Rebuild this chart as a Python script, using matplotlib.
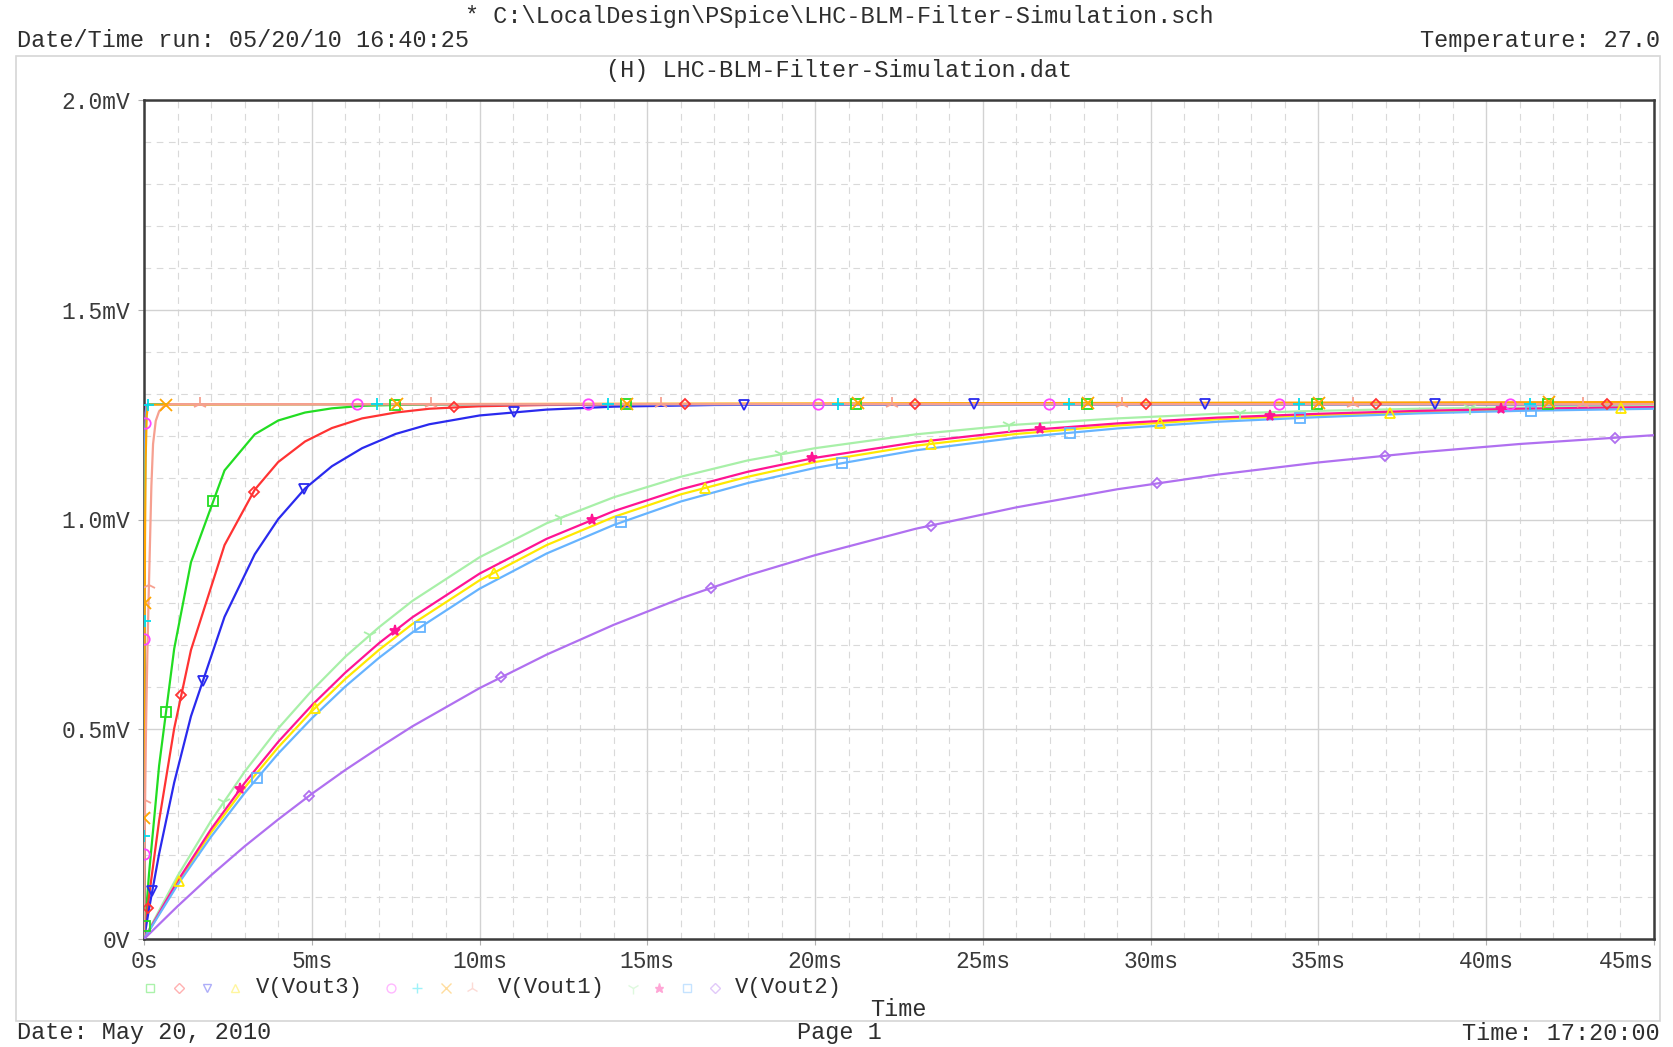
import numpy as np
import matplotlib
matplotlib.use("Agg")
import matplotlib.pyplot as plt
from matplotlib.colors import to_rgb

# ---------------- data (time in ms, voltage in mV) -------------
T_FAST = [0, 0.15, 0.45, 0.9, 1.4, 2.4, 3.3, 4.0, 4.8, 5.6, 6.5, 7.5, 8.5, 10, 12, 14,
          17, 20, 25, 30, 35, 40, 45]
V3_GREEN = [0, 0.156, 0.413, 0.692, 0.898, 1.117, 1.203, 1.236, 1.255, 1.265, 1.271, 1.273,
            1.274, 1.275, 1.275, 1.275, 1.275, 1.275, 1.275, 1.275, 1.275, 1.275, 1.275]
V3_RED = [0, 0.102, 0.282, 0.502, 0.689, 0.939, 1.071, 1.137, 1.186, 1.218, 1.241, 1.255,
          1.264, 1.270, 1.273, 1.274, 1.275, 1.275, 1.275, 1.275, 1.275, 1.275, 1.275]
V3_BLUE = [0, 0.072, 0.203, 0.373, 0.531, 0.768, 0.917, 1.001, 1.074, 1.127, 1.170, 1.204,
           1.227, 1.248, 1.262, 1.269, 1.273, 1.274, 1.275, 1.275, 1.275, 1.275, 1.275]

T_SLOW = [0, 1, 2, 3, 4, 5, 6, 7, 8, 10, 12, 14, 16, 18, 20, 23, 26, 29, 32, 35, 38, 41, 45]
V3_YELLOW = [0, 0.134, 0.254, 0.361, 0.457, 0.543, 0.620, 0.689, 0.751, 0.855, 0.939, 1.006,
             1.060, 1.102, 1.137, 1.176, 1.204, 1.224, 1.239, 1.249, 1.256, 1.262, 1.266]
V2_LTGREEN = [0, 0.150, 0.282, 0.399, 0.502, 0.592, 0.673, 0.743, 0.806, 0.910, 0.991, 1.053,
              1.102, 1.141, 1.170, 1.203, 1.226, 1.241, 1.252, 1.259, 1.264, 1.267, 1.270]
V2_STAR = [0, 0.138, 0.262, 0.372, 0.470, 0.557, 0.635, 0.705, 0.767, 0.871, 0.954, 1.020,
           1.072, 1.114, 1.147, 1.184, 1.211, 1.229, 1.243, 1.252, 1.259, 1.264, 1.268]
V2_LTBLUE = [0, 0.129, 0.244, 0.348, 0.442, 0.526, 0.602, 0.670, 0.731, 0.835, 0.919, 0.987,
             1.043, 1.087, 1.123, 1.165, 1.195, 1.217, 1.233, 1.244, 1.253, 1.259, 1.264]
V2_PURPLE = [0, 0.078, 0.152, 0.221, 0.285, 0.346, 0.403, 0.456, 0.507, 0.598, 0.678, 0.749,
             0.812, 0.867, 0.915, 0.978, 1.029, 1.072, 1.107, 1.136, 1.160, 1.180, 1.201]

T_V1 = [0, 0.005, 0.01, 0.02, 0.03, 0.05, 0.08, 0.12, 45]
V1_MAGENTA = [0, 0.435, 0.720, 1.034, 1.170, 1.255, 1.274, 1.275, 1.275]
V1_CYAN = [0, 0.342, 0.593, 0.909, 1.080, 1.219, 1.266, 1.275, 1.275]
V1_ORANGE = [0, 0.260, 0.467, 0.764, 0.952, 1.148, 1.247, 1.274, 1.280]
T_PINK = [0, 0.02, 0.06, 0.10, 0.14, 0.18, 0.22, 0.27, 0.35, 0.45, 0.6, 0.8, 45]
V1_PINK = [0, 0.25, 0.50, 0.68, 0.82, 0.95, 1.08, 1.18, 1.235, 1.258, 1.27, 1.275, 1.275]

X_TICKS = [0, 5, 10, 15, 20, 25, 30, 35, 40, 45]
X_LABELS = ["0s", "5ms", "10ms", "15ms", "20ms", "25ms", "30ms", "35ms", "40ms", "45ms"]
Y_TICKS = [0, 0.5, 1.0, 1.5, 2.0]
Y_LABELS = ["0V", "0.5mV", "1.0mV", "1.5mV", "2.0mV"]
GROUP_NAMES = ["V(Vout3)", "V(Vout1)", "V(Vout2)"]

# ---------------- styles ----------------
# (t, v, color, marker, markersize, hollow)
SERIES = [
    (T_FAST, V3_GREEN, "#22dd22", "s", 7.5, True),
    (T_FAST, V3_RED, "#ff3333", "D", 5.5, True),
    (T_FAST, V3_BLUE, "#2a2aee", "v", 7.5, True),
    (T_SLOW, V3_YELLOW, "#ffe800", "^", 7.5, True),
    (T_V1, V1_MAGENTA, "#ff44ff", "o", 7.5, True),
    (T_V1, V1_CYAN, "#00ddee", "+", 9, True),
    (T_V1, V1_ORANGE, "#ffa500", "x", 8, True),
    (T_PINK, V1_PINK, "#f6a090", "2", 10, True),
    (T_SLOW, V2_LTGREEN, "#a8f0a8", "1", 10, True),
    (T_SLOW, V2_STAR, "#ff1493", "*", 8, False),
    (T_SLOW, V2_LTBLUE, "#66b4ff", "s", 7.5, True),
    (T_SLOW, V2_PURPLE, "#b070f0", "D", 5.5, True),
]

FONT = ["Liberation Mono", "DejaVu Sans Mono"]
FS_HEAD = 16.9
FS_TICK = 16.5
FS_LEG = 16.0
TXT = "#2e2e2e"

W, H = 1673, 1047
fig = plt.figure(figsize=(W / 100, H / 100), dpi=100)
fig.patch.set_facecolor("white")

# page frame
fig.add_artist(plt.Rectangle((16 / W, (H - 1021) / H), 1644 / W, 965.5 / H,
                             transform=fig.transFigure, fill=False,
                             edgecolor="#d6d6d6", lw=1.2))

ax = fig.add_axes([144 / W, 108 / H, 1510 / W, 839 / H])
ax.set_xlim(0, 45)
ax.set_ylim(0, 2.0)
ax.set_facecolor("white")

ax.set_xticks(X_TICKS)
ax.set_xticklabels(X_LABELS)
ax.set_xticks(np.arange(0, 46, 1), minor=True)
ax.set_yticks(Y_TICKS)
ax.set_yticklabels(Y_LABELS)
ax.set_yticks(np.arange(0, 2.01, 0.1), minor=True)
ax.grid(True, which="major", color="#d2d2d2", lw=1.0, ls="-")
ax.grid(True, which="minor", color="#d9d9d9", lw=0.8, ls=(0, (6, 5)))
ax.set_axisbelow(True)
ax.tick_params(which="major", direction="out", length=4, color="#b0b0b0",
               labelsize=FS_TICK, labelcolor="#3a3a3a", pad=6)
ax.tick_params(axis="x", which="major", pad=4)
ax.tick_params(which="minor", length=0)
for lab in ax.get_xticklabels() + ax.get_yticklabels():
    lab.set_fontfamily(FONT)
ax.get_xticklabels()[-1].set_horizontalalignment("right")
for sp in ax.spines.values():
    sp.set_color("#3c3c3c")
    sp.set_linewidth(1.8)

# marker spacing along each trace (PSpice style), in screen pixels
STEP_X = 230.5
STEP_Y = 215.5


def markers_along(t, v, offset):
    pts = ax.transData.transform(np.column_stack([t, v]))
    dx = np.diff(pts[:, 0]) / STEP_X
    dy = np.diff(pts[:, 1]) / STEP_Y
    cum = np.concatenate([[0], np.cumsum(np.hypot(dx, dy))])
    s = np.arange(offset, cum[-1], 1.0)
    px = np.interp(s, cum, pts[:, 0])
    py = np.interp(s, cum, pts[:, 1])
    return ax.transData.inverted().transform(np.column_stack([px, py]))


for i, (t, v, col, mk, ms, hollow) in enumerate(SERIES):
    ax.plot(t, v, color=col, lw=1.6, zorder=3 + i * 0.01, solid_joinstyle="round")
for i, (t, v, col, mk, ms, hollow) in enumerate(SERIES):
    m = markers_along(t, v, 0.06 + i / 12.0)
    ax.plot(m[:, 0], m[:, 1], ls="none", marker=mk, ms=ms,
            mfc="none" if hollow else col, mec=col, mew=1.3, zorder=4, clip_on=True)

# legend row (faint markers + series names)
def faint(c, a=0.38):
    r, g, b = to_rgb(c)
    return (1 - a + a * r, 1 - a + a * g, 1 - a + a * b)

LEG_Y = (H - 988) / H
mk_x = [149.5, 179, 207, 235, 391, 417, 446, 472, 633, 659, 687, 715]
name_x = [255.6, 498, 735]
for (t, v, col, mk, ms, hollow), x in zip(SERIES, mk_x):
    fc = faint(col)
    fig.lines.append(matplotlib.lines.Line2D([x / W], [LEG_Y], transform=fig.transFigure,
                                             marker=mk, ms=ms * 0.85, ls="none",
                                             mfc="none" if hollow else fc, mec=fc, mew=1.0))
for name, x in zip(GROUP_NAMES, name_x):
    fig.text(x / W, LEG_Y, name, ha="left", va="center", fontsize=FS_LEG,
             family=FONT, color=TXT)

def ftext(x, y, s, ha):
    fig.text(x / W, (H - y) / H, s, ha=ha, va="center", fontsize=FS_HEAD,
             family=FONT, color=TXT)

ftext(839, 17, r"* C:\LocalDesign\PSpice\LHC-BLM-Filter-Simulation.sch", "center")
ftext(17, 40.5, "Date/Time run: 05/20/10 16:40:25", "left")
ftext(1660, 40.5, "Temperature: 27.0", "right")
ftext(839, 70.5, "(H) LHC-BLM-Filter-Simulation.dat", "center")
ftext(898, 1010, "Time", "center")
ftext(17, 1033, "Date: May 20, 2010", "left")
ftext(839, 1033, "Page 1", "center")
ftext(1660, 1033, "Time: 17:20:00", "right")

fig.savefig("out.png", dpi=100, facecolor="white")
